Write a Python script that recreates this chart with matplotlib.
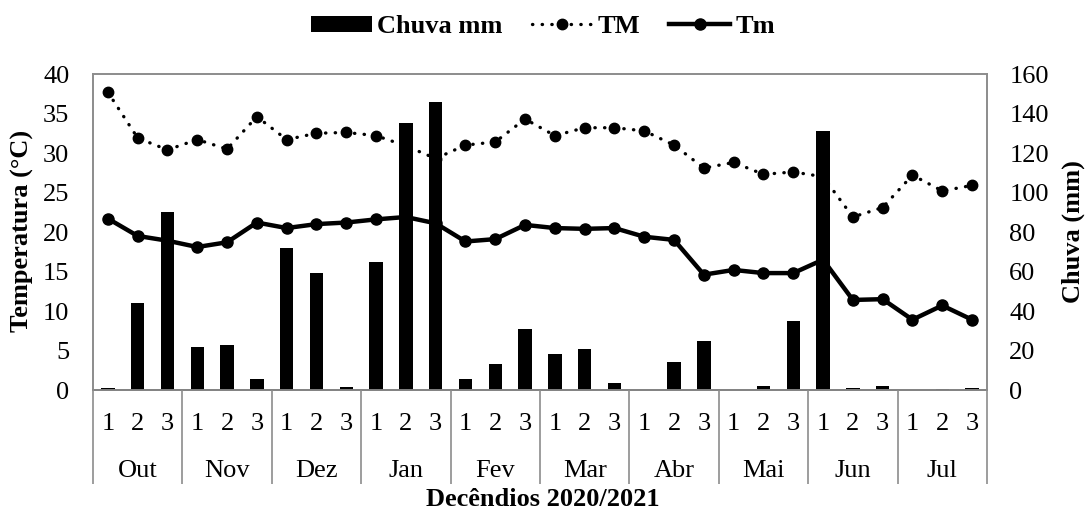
import numpy as np
import matplotlib
matplotlib.use("Agg")
import matplotlib.pyplot as plt
from matplotlib.lines import Line2D
from matplotlib.patches import Patch

plt.rcParams['font.family'] = ['Liberation Serif', 'DejaVu Serif']

# data
months = ['Out', 'Nov', 'Dez', 'Jan', 'Fev', 'Mar', 'Abr', 'Mai', 'Jun', 'Jul']
decades = ['1', '2', '3']
chuva = [0.8, 44, 90, 22, 23, 5.6, 72, 59, 1.5, 65, 135, 146,
         5.6, 13, 31, 18, 21, 3.5, 0, 14, 25, 0, 2, 35,
         131, 0.8, 2, 0, 0.6, 1]
tmax = [37.7, 31.9, 30.4, 31.7, 30.5, 34.6, 31.7, 32.5, 32.6, 32.2, 30.9, 29.3,
        31.0, 31.4, 34.3, 32.2, 33.2, 33.2, 32.8, 31.0, 28.1, 28.8, 27.3, 27.6,
        27.0, 21.9, 23.1, 27.2, 25.2, 25.9]
tmin = [21.7, 19.5, 18.9, 18.1, 18.7, 21.2, 20.5, 21.0, 21.2, 21.6, 21.9, 21.1,
        18.8, 19.1, 20.9, 20.5, 20.4, 20.5, 19.4, 19.0, 14.6, 15.2, 14.8, 14.8,
        16.5, 11.4, 11.5, 8.9, 10.7, 8.9]

x = np.arange(len(chuva))
fs = 19
grey = '#8c8c8c'

fig = plt.figure(figsize=(10.86, 5.15), dpi=100)
ax = fig.add_axes([0.0856, 0.2427, 0.8232, 0.6136])
ax2 = ax.twinx()

# rain bars on the right axis, behind the temperature lines
ax2.bar(x, chuva, width=0.45, color='black')
ax.set_zorder(ax2.get_zorder() + 1)
ax.patch.set_visible(False)

ax.plot(x, tmax, color='black', lw=2.4, linestyle=(0, (0.1, 2.8)),
        dash_capstyle='round', marker='o', markersize=7.5)
ax.plot(x, tmin, color='black', lw=3.2, marker='o', markersize=8)

ax.set_xlim(-0.5, len(x) - 0.5)
ax.set_ylim(0, 40)
ax.set_yticks(np.arange(0, 41, 5))
ax2.set_ylim(0, 160)
ax2.set_yticks(np.arange(0, 161, 20))

ax.tick_params(axis='y', length=0, pad=17, labelsize=fs)
ax2.tick_params(axis='y', length=0, pad=16, labelsize=fs)

# decade labels
ax.set_xticks(x)
ax.set_xticklabels(decades * len(months))
ax.tick_params(axis='x', length=0, pad=16.5, labelsize=fs)

# month level: separators and names
sec = ax.secondary_xaxis('bottom')
sec.set_xticks(np.arange(-0.5, len(x), 3))
sec.set_xticklabels([])
sec.tick_params(axis='x', which='major', length=68, width=1.2, color=grey)
sec.set_xticks(np.arange(1, len(x), 3), minor=True)
sec.set_xticklabels(months, minor=True)
sec.tick_params(axis='x', which='minor', length=0, pad=50.5, labelsize=fs)
sec.spines['bottom'].set_visible(False)

for a in (ax, ax2):
    for s in a.spines.values():
        s.set_color(grey)
        s.set_linewidth(1.2)
ax2.spines['bottom'].set_color('#404040')

fig.text(0.021, 0.5508, 'Temperatura (°C)', rotation=90, ha='center', va='center',
         fontsize=fs, fontweight='bold')
fig.text(0.988, 0.5508, 'Chuva (mm)', rotation=90, ha='center', va='center',
         fontsize=fs, fontweight='bold')
fig.text(0.5, 0.031, 'Decêndios 2020/2021', ha='center', va='center',
         fontsize=fs, fontweight='bold')

handles = [Patch(facecolor='black', label='Chuva mm'),
           Line2D([], [], color='black', lw=2.4, linestyle=(0, (0.1, 2.8)),
                  dash_capstyle='round', marker='o', markersize=7.5, label='TM'),
           Line2D([], [], color='black', lw=3.2, marker='o', markersize=8, label='Tm')]
fig.legend(handles=handles, loc='center', bbox_to_anchor=(0.5, 0.948), ncol=3,
           frameon=False, prop={'weight': 'bold', 'size': fs},
           handlelength=2.3, handleheight=0.6, handletextpad=0.2, columnspacing=1.1)

fig.savefig('out.png', dpi=100)
